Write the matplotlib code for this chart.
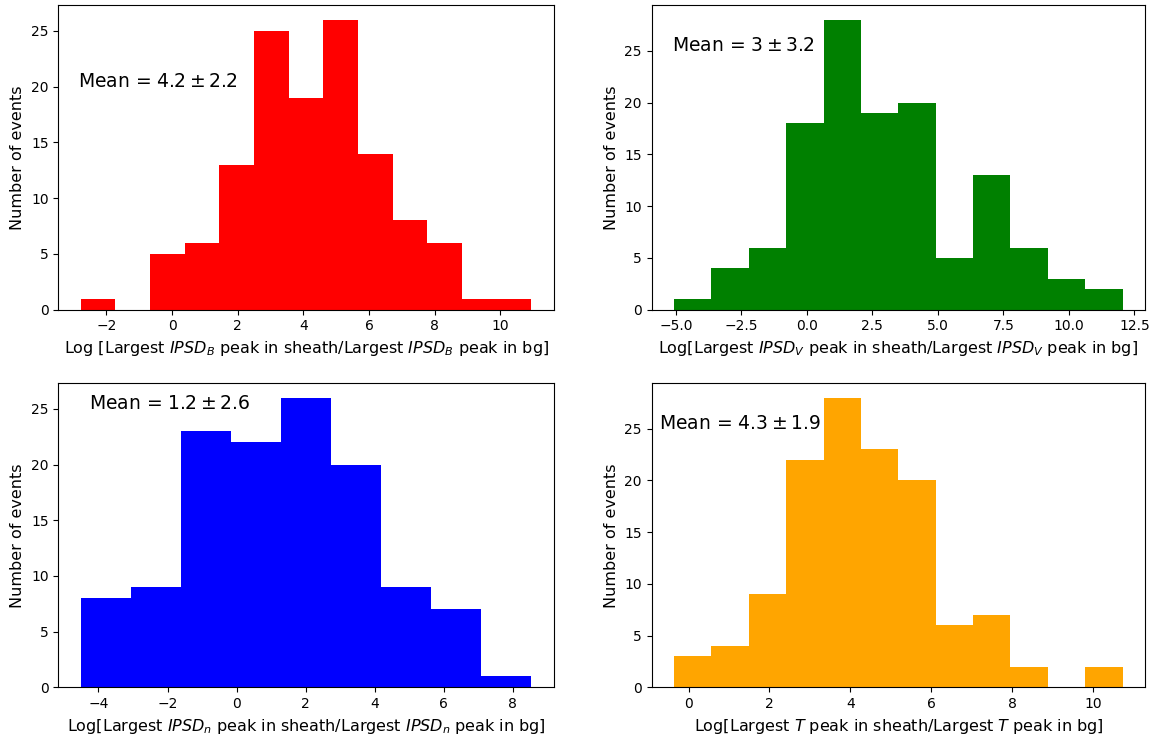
import numpy as np
import matplotlib
matplotlib.use("Agg")
import matplotlib.pyplot as plt

# Bin edges (start, stop, number of bins) and counts
b_range = (-2.78, 10.95, 13)
b_counts = [1, 0, 5, 6, 13, 25, 19, 26, 14, 8, 6, 1, 1]

v_range = (-5.07, 12.05, 12)
v_counts = [1, 4, 6, 18, 28, 19, 20, 5, 13, 6, 3, 2]

n_range = (-4.51, 8.54, 9)
n_counts = [8, 9, 23, 22, 26, 20, 9, 7, 1]

t_range = (-0.357, 10.73, 12)
t_counts = [3, 4, 9, 22, 28, 23, 20, 6, 7, 2, 0, 2]

colors = ["red", "green", "blue", "orange"]
mean_texts = [r"Mean = $4.2 \pm 2.2$", r"Mean = $3 \pm 3.2$",
              r"Mean = $1.2 \pm 2.6$", r"Mean = $4.3 \pm 1.9$"]
xlabels = [
    r"Log [Largest $IPSD_B$ peak in sheath/Largest $IPSD_B$ peak in bg]",
    r"Log[Largest $IPSD_V$ peak in sheath/Largest $IPSD_V$ peak in bg]",
    r"Log[Largest $IPSD_n$ peak in sheath/Largest $IPSD_n$ peak in bg]",
    r"Log[Largest $T$ peak in sheath/Largest $T$ peak in bg]",
]

W, H = 1156, 740
fig = plt.figure(figsize=(W / 100, H / 100), dpi=100)

def frac(l, r, t, b):
    return [l / W, 1 - b / H, (r - l) / W, (b - t) / H]

boxes = [frac(58.3, 554, 5.3, 309.7), frac(651.7, 1145, 5.3, 309.7),
         frac(58.3, 554, 383.3, 687.3), frac(651.7, 1145, 383.3, 687.3)]
text_pos = [(0.04, 0.73), (0.042, 0.85), (0.062, 0.914), (0.0145, 0.85)]

ranges = [b_range, v_range, n_range, t_range]
counts_all = [b_counts, v_counts, n_counts, t_counts]

for i in range(4):
    ax = fig.add_axes(boxes[i])
    lo, hi, nb = ranges[i]
    edges = np.linspace(lo, hi, nb + 1)
    ax.hist(edges[:-1], bins=edges, weights=counts_all[i],
            histtype="stepfilled", color=colors[i])
    ax.tick_params(labelsize=10)
    ax.set_xlabel(xlabels[i], fontsize=11.5)
    ax.set_ylabel("Number of events", fontsize=11.5)
    ax.text(text_pos[i][0], text_pos[i][1], mean_texts[i], transform=ax.transAxes,
            fontsize=13.5, va="baseline", ha="left")

fig.savefig("out.png", dpi=100)
